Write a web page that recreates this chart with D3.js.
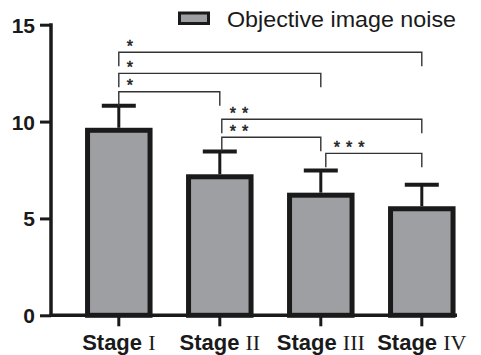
<!DOCTYPE html>
<html><head><meta charset="utf-8">
<script src="https://cdn.jsdelivr.net/npm/d3@7"></script>
<style>body{margin:0;background:#fff}svg{display:block}</style>
</head><body><svg id="c" width="481" height="355"></svg>
<script>
// ---- data ----
const categories = ["I", "II", "III", "IV"];
const means = [9.55, 7.15, 6.2, 5.5];
const sds = [1.27, 1.3, 1.27, 1.24];
const yTicks = [0, 5, 10, 15];
const seriesName = "Objective image noise";
const compFrom = [0, 0, 0, 1, 1, 2];
const compTo = [3, 2, 1, 3, 2, 3];
const compLevel = [13.58, 12.49, 11.54, 10.12, 9.19, 8.36];
const compLabel = ["*", "*", "*", "**", "**", "***"];

// ---- layout ----
const svg = d3.select("#c");
const axisX = 51, axisY = 315.3, axisRight = 457;
const y = d3.scaleLinear().domain([0, 15]).range([axisY, 24.7]);
const x = d3.scaleBand().domain(categories).range([68.3, 472.3]).paddingInner(0.38).paddingOuter(0.19);
const barW = 62.5;
const cx = c => x(c) + x.bandwidth() / 2;
const fill = "#9d9fa3";

// bars
svg.append("g").selectAll("rect").data(categories).join("rect")
  .attr("x", c => cx(c) - barW / 2)
  .attr("y", (c, i) => y(means[i]))
  .attr("width", barW)
  .attr("height", (c, i) => axisY - y(means[i]))
  .attr("fill", fill).attr("stroke", "#1a1a1a").attr("stroke-width", 5);

// error bars
const eb = svg.append("g").attr("stroke", "#1a1a1a");
eb.selectAll("line.v").data(categories).join("line").attr("class", "v")
  .attr("x1", c => cx(c)).attr("x2", c => cx(c))
  .attr("y1", (c, i) => y(means[i]) - 2.5).attr("y2", (c, i) => y(means[i] + sds[i]))
  .attr("stroke-width", 3);
eb.selectAll("line.h").data(categories).join("line").attr("class", "h")
  .attr("x1", c => cx(c) - 17).attr("x2", c => cx(c) + 17)
  .attr("y1", (c, i) => y(means[i] + sds[i])).attr("y2", (c, i) => y(means[i] + sds[i]))
  .attr("stroke-width", 4);

// y axis
const yAxis = svg.append("g").attr("transform", `translate(${axisX},0)`)
  .call(d3.axisLeft(y).tickValues(yTicks).tickSize(11).tickSizeOuter(0).tickPadding(5));
yAxis.select(".domain").attr("stroke", "#1a1a1a").attr("stroke-width", 3.5)
  .attr("d", `M0,${y(15) - 1.5}V${axisY}`);
yAxis.selectAll(".tick line").attr("stroke", "#1a1a1a").attr("stroke-width", 3);
yAxis.selectAll(".tick text").attr("font-family", "Liberation Sans, Arial, sans-serif")
  .attr("font-weight", "bold").attr("font-size", 21).attr("fill", "#1a1a1a").attr("dy", "0.36em");

// x axis
const xAxis = svg.append("g").attr("transform", `translate(0,${axisY})`)
  .call(d3.axisBottom(x).tickSize(11).tickSizeOuter(0).tickPadding(10).tickFormat(""));
xAxis.select(".domain").attr("stroke", "#1a1a1a").attr("stroke-width", 3.5)
  .attr("d", `M${axisX - 1.5},0H${axisRight}`);
xAxis.selectAll(".tick line").attr("stroke", "#1a1a1a").attr("stroke-width", 3);
const xt = xAxis.selectAll(".tick").append("text")
  .attr("y", 35).attr("text-anchor", "middle").attr("fill", "#1a1a1a");
xt.append("tspan").attr("font-family", "Liberation Sans, Arial, sans-serif").attr("font-weight", "bold")
  .attr("font-size", 22).text("Stage ");
xt.append("tspan").attr("font-family", "Liberation Serif, Times New Roman, serif")
  .attr("font-size", 22).text(d => d);

// comparison brackets
const br = svg.append("g");
compFrom.forEach((f, k) => {
  const x1 = cx(categories[f]) + (k === 5 ? 5 : (k >= 3 && k <= 4 ? 2 : 0));
  const x2 = cx(categories[compTo[k]]);
  const yy = y(compLevel[k]);
  br.append("path")
    .attr("d", `M${x1},${yy + 14}V${yy}H${x2}V${yy + 14}`)
    .attr("fill", "none").attr("stroke", "#333").attr("stroke-width", 1.4);
  br.append("text").attr("x", x1 + 8).attr("y", yy - 0.5)
    .attr("font-family", "Liberation Sans, Arial, sans-serif").attr("font-size", 16)
    .attr("letter-spacing", 6).attr("fill", "#222")
    .attr("stroke", "#222").attr("stroke-width", 0.5).text(compLabel[k]);
});

// legend
const lg = svg.append("g");
lg.append("rect").attr("x", 179.5).attr("y", 13).attr("width", 29).attr("height", 10.5)
  .attr("fill", fill).attr("stroke", "#1a1a1a").attr("stroke-width", 3);
lg.append("text").attr("x", 227).attr("y", 26.5)
  .attr("font-family", "Liberation Sans, Arial, sans-serif").attr("font-size", 22.5)
  .attr("fill", "#1a1a1a").attr("textLength", 229).attr("lengthAdjust", "spacingAndGlyphs").text(seriesName);
</script></body></html>
